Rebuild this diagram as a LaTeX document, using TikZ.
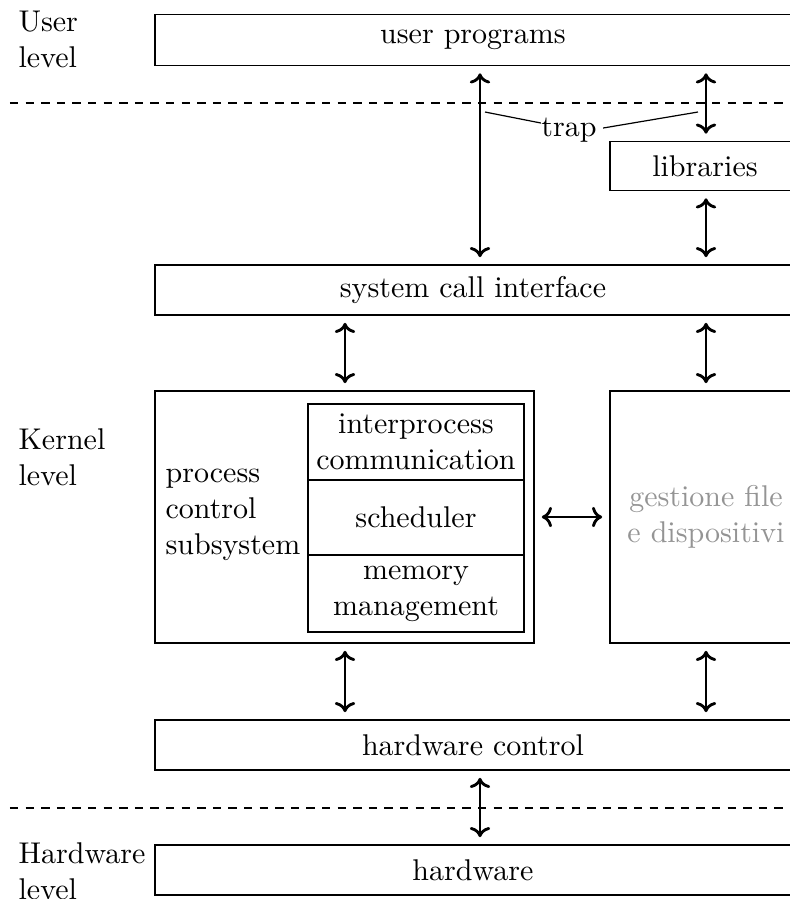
\documentclass[tikz,border=0pt]{standalone}
\usetikzlibrary{calc,arrows.meta}
\begin{document}
\begin{tikzpicture}[x=0.3333pt,y=-0.3333pt,
  box/.style={draw,rectangle,inner sep=0pt,line width=0.4pt},
  arr/.style={{Computer Modern Rightarrow[length=3.4pt,width=6.8pt]}-{Computer Modern Rightarrow[length=3.4pt,width=6.8pt]},line width=0.95pt,shorten >=2.4pt,shorten <=2.4pt},
  sep/.style={line width=0.8pt,dash pattern=on 2.8pt off 2.4pt},
  lvl/.style={anchor=west,align=left,inner sep=0pt}]
\clip (0,0) rectangle (790,899);
% level labels
\node[lvl] (ul) at (18,39) {User\\level};
\node[lvl] (kl) at (18,457) {Kernel\\level};
\node[lvl] (hl) at (18,871) {Hardware\\level};
% separators
\coordinate (d1a) at (10,103); \coordinate (d1b) at (790,103);
\coordinate (d2a) at (10,808); \coordinate (d2b) at (790,808);
\draw[sep] (d1a) -- (d1b);
\draw[sep] (d2a) -- (d2b);
% boxes
\node[box,minimum width=212pt,minimum height=17pt] (up) at (473,40) {user programs};
\node[box,minimum width=63.33pt,minimum height=16.33pt] (lib) at (705,166) {libraries};
\node[box,minimum width=212pt,minimum height=16.67pt] (sci) at (473,290) {system call interface};
\node[box,minimum width=126.33pt,minimum height=84pt] (pcs) at (344.5,517) {};
\node[anchor=west,align=left,inner sep=0pt] (pcst) at (165,515) {process\\control\\subsystem};
\node[box,minimum width=72pt,minimum height=25.33pt,align=center] (ipc) at (416,442) {interprocess\\communication};
\node[box,minimum width=72pt,minimum height=25pt] (sch) at (416,517.5) {scheduler};
\node[box,minimum width=72pt,minimum height=25.67pt,align=center] (mm) at (416,593.5) {memory\\management};
\node[box,minimum width=64pt,minimum height=84pt,align=center,text=black!42] (gf) at (706,517) {gestione file\\e dispositivi};
\node[box,minimum width=212pt,minimum height=16.67pt] (hwc) at (473,745) {hardware control};
\node[box,minimum width=212pt,minimum height=16.67pt] (hw) at (473,870) {hardware};
% arrow x positions
\coordinate (xa) at (480,0);
\coordinate (xb) at (706,0);
\coordinate (xc) at (345,0);
% arrows
\draw[arr] (up.south -| xa) -- (sci.north -| xa);
\draw[arr] (up.south -| xb) -- (lib.north -| xb);
\draw[arr] (lib.south -| xb) -- (sci.north -| xb);
\draw[arr] (sci.south -| xc) -- (pcs.north -| xc);
\draw[arr] (sci.south -| xb) -- (gf.north -| xb);
\draw[arr] (pcs.east) -- (gf.west);
\draw[arr] (pcs.south -| xc) -- (hwc.north -| xc);
\draw[arr] (gf.south -| xb) -- (hwc.north -| xb);
\draw[arr] (hwc.south -| xa) -- (hw.north -| xa);
% trap
\node[inner sep=0pt] (trap) at (569,130) {trap};
\coordinate (t1) at (485,112);
\coordinate (t2) at (698,112);
\draw[line width=0.4pt] (t1) -- (trap.west |- 0,123) ;
\draw[line width=0.4pt] ($(trap.east)+(6,-2)$) -- (t2);
\end{tikzpicture}
\end{document}
